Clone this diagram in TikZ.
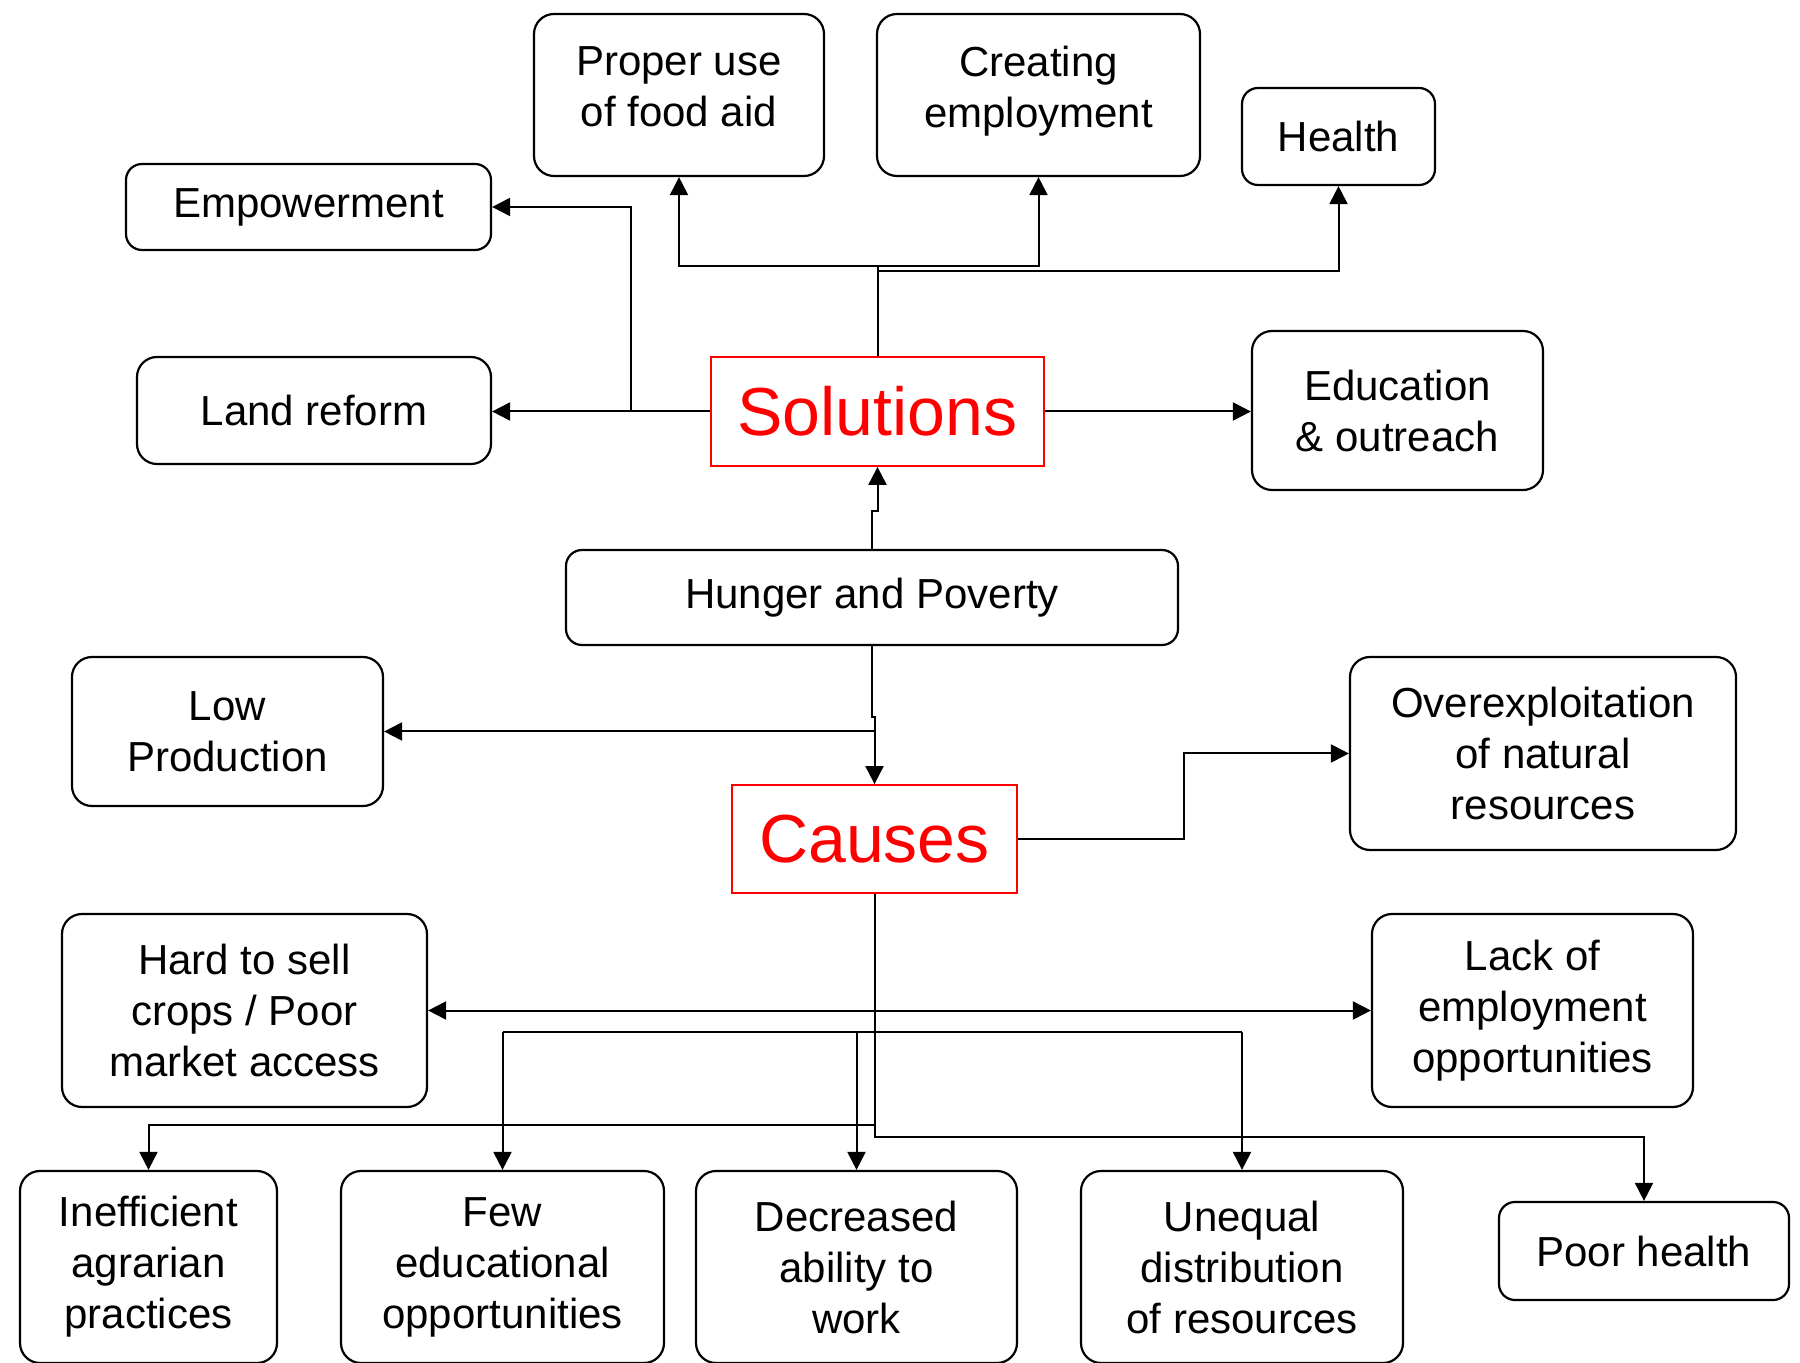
\documentclass[tikz,border=0pt]{standalone}
\usepackage{fontspec}
\setmainfont{Liberation Sans}
\usetikzlibrary{arrows.meta}
\begin{document}
\begin{tikzpicture}[x=0.5pt,y=-0.5pt,
  box/.style={draw, line width=1.1pt, rounded corners=10pt, align=center,
    font=\fontsize{21}{25.5}\selectfont, inner sep=0pt},
  key/.style={draw=red, line width=0.9pt, text=red, align=center,
    font=\fontsize{34}{40}\selectfont, inner sep=0pt},
  conn/.style={line width=1pt},
  arr/.style={conn, -{Triangle[width=9pt,length=9pt]}},
  arrtwo/.style={conn, {Triangle[width=9pt,length=9pt]}-{Triangle[width=9pt,length=9pt]}}]
\useasboundingbox (0,0) rectangle (1800,1363);
\fill[white] (0,0) rectangle (1800,1363);

% Solutions side
\node[box, minimum width=145pt, minimum height=81pt] (food) at (679,95) {Proper use\\of food aid\\[-17.5pt]};
\node[box, minimum width=161.5pt, minimum height=81pt] (cemp) at (1038.5,95) {Creating\\employment\\[-17.5pt]};
\node[box, minimum width=96.5pt, minimum height=48.5pt, rounded corners=8pt] (health) at (1338.5,136.5) {Health};
\node[box, minimum width=182.5pt, minimum height=43pt, rounded corners=8pt] (empw) at (308.5,207) {Empowerment};
\node[box, minimum width=177pt, minimum height=53.5pt] (land) at (314,410.5) {Land reform};
\node[key, minimum width=166.5pt, minimum height=54.5pt] (sol) at (877.5,411.5) {Solutions};
\node[box, minimum width=145.5pt, minimum height=79.5pt] (edu) at (1397.5,410.5) {Education\\\& outreach};

\node[box, minimum width=306pt, minimum height=47.5pt, rounded corners=8pt] (hunger) at (872,597.5) {Hunger and Poverty};

% Causes side
\node[box, minimum width=155.5pt, minimum height=74.5pt] (low) at (227.5,731.5) {Low\\Production};
\node[key, minimum width=142.5pt, minimum height=54pt] (causes) at (874.5,839) {Causes};
\node[box, minimum width=193pt, minimum height=96.5pt] (over) at (1543,753.5) {Overexploitation\\of natural\\resources};
\node[box, minimum width=182.5pt, minimum height=96.5pt] (hard) at (244.5,1010.5) {Hard to sell\\crops / Poor\\market access};
\node[box, minimum width=160.5pt, minimum height=96.5pt] (lack) at (1532.5,1010.5) {Lack of\\employment\\opportunities};
\node[box, minimum width=128.5pt, minimum height=96pt] (ineff) at (148.5,1267) {Inefficient\\agrarian\\practices};
\node[box, minimum width=161.5pt, minimum height=96pt] (few) at (502.5,1267) {Few\\educational\\opportunities};
\node[box, minimum width=160.5pt, minimum height=96pt] (dec) at (856.5,1267) {Decreased\\ability to\\work};
\node[box, minimum width=161pt, minimum height=96pt] (uneq) at (1242,1267) {Unequal\\distribution\\of resources};
\node[box, minimum width=145pt, minimum height=49pt, rounded corners=8pt] (poor) at (1644,1251) {Poor health};

% junction coordinates
\coordinate (j1) at (877.5,266);
\coordinate (j2) at (877.5,271);
\coordinate (j3) at (631,411.5);
\coordinate (h1) at (872,511);
\coordinate (c1) at (872,717);
\coordinate (c2) at (874.5,717);
\coordinate (c3) at (1184,839);
\coordinate (c4) at (874.5,1137);
\coordinate (k1) at (502.5,1032);
\coordinate (k2) at (1242,1032);
\coordinate (k3) at (856.5,1032);
\coordinate (k4) at (874.5,1125);

% Solutions connectors
\draw[conn] (sol.north) -- (j1);
\draw[arr] (j1) -| (food.south);
\draw[arr] (j1) -| (cemp.south);
\draw[arr] (j2) -| (health.south);
\draw[arr] (sol.west) -- (sol.west -| land.east);
\draw[arr] (j3) |- (empw.east);
\draw[arr] (sol.east) -- (sol.east -| edu.west);
\draw[arr] (hunger.north) -- (h1) -| (sol.south);

% Causes connectors
\draw[arr] (hunger.south) -- (c1) -- (c2) -- (causes.north);
\draw[arr] (causes.north |- low.east) -- (low.east);
\draw[arr] (causes.east) -- (c3) |- (over.west);
\draw[arr] (causes.south) -- (c4) -| (poor.north);
\draw[arrtwo] (hard.east) -- (lack.west);
\draw[conn] (k1) -- (k2);
\draw[arr] (k1) -- (few.north);
\draw[arr] (k2) -- (uneq.north);
\draw[arr] (k3) -- (dec.north);
\draw[arr] (k4) -| (ineff.north);
\end{tikzpicture}
\end{document}
